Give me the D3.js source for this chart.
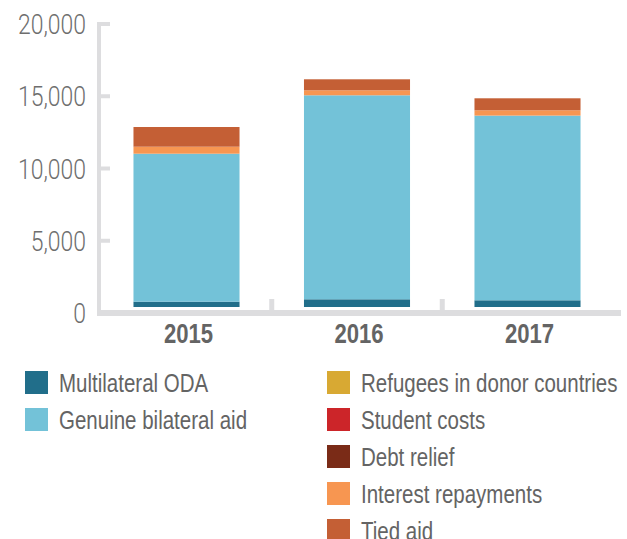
<!DOCTYPE html>
<html>
<head>
<meta charset="utf-8">
<script src="https://cdn.jsdelivr.net/npm/d3@7.9.0/dist/d3.min.js"></script>
<style>
  body { margin: 0; background: #fff; }
  svg { display: block; font-family: "Liberation Sans", Arial, sans-serif; }
</style>
</head>
<body>
<svg id="chart" width="627" height="539"></svg>
<script>
const years = ["2015", "2016", "2017"];
const seriesNames = [
  "Multilateral ODA",
  "Genuine bilateral aid",
  "Refugees in donor countries",
  "Student costs",
  "Debt relief",
  "Interest repayments",
  "Tied aid"
];
const seriesColors = ["#216e8a", "#73c2d8", "#d8a933", "#cc2529", "#7a2b17", "#f79651", "#c45f35"];

const multilateral = [367, 533, 464];
const genuineBilateral = [10242, 14118, 12782];
const refugees = [0, 0, 0];
const studentCosts = [0, 0, 0];
const debtRelief = [0, 0, 0];
const interestRepayments = [484, 346, 367];
const tiedAid = [1363, 761, 830];

const yTicks = [0, 5000, 10000, 15000, 20000];

const allSeries = [multilateral, genuineBilateral, refugees, studentCosts, debtRelief, interestRepayments, tiedAid];
const rows = years.map((yr, i) => {
  const row = { year: yr };
  seriesNames.forEach((name, j) => { row[name] = allSeries[j][i]; });
  return row;
});

const svg = d3.select("#chart");
const axisColor = "#dddddf";
const narrow = 0.82; // fake a condensed face by squeezing text horizontally

const x = d3.scaleBand().domain(years).range([101.25, 612.75]).paddingInner(0.378).paddingOuter(0.189);
const y = d3.scaleLinear().domain([0, 20000]).range([313, 24]);
// bars sit a little above the axis line in the original
const yBar = y.copy().range([307, 18]);

const stacked = d3.stack().keys(seriesNames)(rows);

// bars
svg.append("g")
  .selectAll("g")
  .data(stacked)
  .join("g")
  .attr("fill", (d, i) => seriesColors[i])
  .selectAll("rect")
  .data(d => d)
  .join("rect")
  .attr("x", d => x(d.data.year))
  .attr("width", x.bandwidth())
  .attr("y", d => yBar(d[1]))
  .attr("height", d => yBar(d[0]) - yBar(d[1]));

// y axis line + ticks
svg.append("rect")
  .attr("x", 97).attr("y", y(20000) - 2)
  .attr("width", 4).attr("height", y(0) - y(20000) + 4)
  .attr("fill", axisColor);

svg.append("g")
  .selectAll("rect")
  .data(yTicks.filter(d => d > 0))
  .join("rect")
  .attr("x", 97).attr("y", d => y(d) - 2)
  .attr("width", 13).attr("height", 4)
  .attr("fill", axisColor);

svg.append("g")
  .selectAll("text")
  .data(yTicks)
  .join("text")
  .attr("transform", d => `translate(86,${y(d) + 10}) scale(${narrow},1)`)
  .attr("text-anchor", "end")
  .attr("font-family", "Roboto, 'Liberation Sans', sans-serif")
  .attr("font-weight", 300)
  .attr("font-size", 28)
  .attr("fill", "#6e6e6e")
  .text(d => d3.format(",")(d));

// x axis line + separators
svg.append("rect")
  .attr("x", 97).attr("y", 310)
  .attr("width", 524).attr("height", 6)
  .attr("fill", axisColor);

svg.append("g")
  .selectAll("rect")
  .data(years.slice(1))
  .join("rect")
  .attr("x", d => x(d) - x.step() * x.paddingInner() / 2 - 2.5)
  .attr("y", 299)
  .attr("width", 5).attr("height", 12)
  .attr("fill", axisColor);

svg.append("g")
  .selectAll("text")
  .data(years)
  .join("text")
  .attr("transform", d => `translate(${x(d) + x.bandwidth() / 2 + 2},343) scale(${narrow},1)`)
  .attr("text-anchor", "middle")
  .attr("font-size", 27)
  .attr("font-weight", "bold")
  .attr("fill", "#646464")
  .text(d => d);

// legend
const legendPos = [
  [25, 371], [25, 408],
  [327, 371], [327, 408], [327, 445], [327, 482], [327, 519]
];
const legend = svg.append("g")
  .selectAll("g")
  .data(seriesNames)
  .join("g")
  .attr("transform", (d, i) => `translate(${legendPos[i][0]},${legendPos[i][1]})`);

legend.append("rect")
  .attr("width", 23).attr("height", 23)
  .attr("fill", (d, i) => seriesColors[i]);

legend.append("text")
  .attr("transform", `translate(34,21) scale(${narrow},1)`)
  .attr("font-size", 25)
  .attr("fill", "#646464")
  .text(d => d);
</script>
</body>
</html>
